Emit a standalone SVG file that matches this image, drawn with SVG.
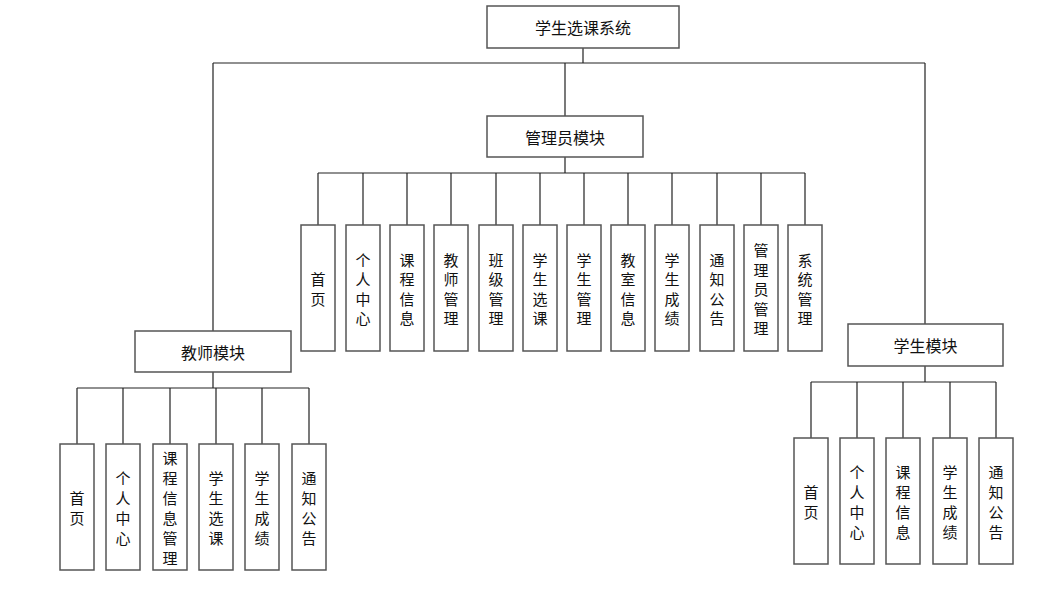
<svg xmlns="http://www.w3.org/2000/svg" width="1037" height="593" viewBox="0 0 1037 593">
<style>
.box{fill:#fff;stroke:#555;stroke-width:1.5}
.ln{fill:none;stroke:#222;stroke-width:1.2}
.t{font-family:"Noto Sans CJK SC","Liberation Sans",sans-serif;fill:#111;text-anchor:middle;dominant-baseline:central}
.m{font-size:16px}
.c{font-size:15px}
</style>
<rect width="1037" height="593" fill="#fff"/>
<g id="connectors">
<path class="ln" d="M583 48V63M213 63H925M213 63V331M925 63V324M565 63V116"/>
<path class="ln" d="M565 157V173M318 173H805M318 173V225M363 173V225M407 173V225M451 173V225M496 173V225M540 173V225M584 173V225M628 173V225M672 173V225M717 173V225M761 173V225M805 173V225"/>
<path class="ln" d="M213 372V388M77 388H309M77 388V444M123 388V444M170 388V444M216 388V444M262 388V444M309 388V444"/>
<path class="ln" d="M925 366V382M811 382H996M811 382V438M857 382V438M903 382V438M950 382V438M996 382V438"/>
</g>
<g id="root"><rect class="box" x="487" y="6" width="192" height="42"/><text class="t m" x="583" y="27">学生选课系统</text></g>
<g id="admin"><rect class="box" x="487" y="116" width="156" height="41"/><text class="t m" x="565" y="136.5">管理员模块</text></g>
<g id="teacher"><rect class="box" x="135" y="331" width="156" height="41"/><text class="t m" x="213" y="351.5">教师模块</text></g>
<g id="student"><rect class="box" x="848" y="324" width="155" height="42"/><text class="t m" x="925.5" y="345">学生模块</text></g>

<g id="a1"><rect class="box" x="301" y="225" width="34" height="126"/><text class="t c"><tspan x="318" y="278.25">首</tspan><tspan x="318" y="297.75">页</tspan></text></g>
<g id="a2"><rect class="box" x="346" y="225" width="34" height="126"/><text class="t c"><tspan x="363" y="258.75">个</tspan><tspan x="363" y="278.25">人</tspan><tspan x="363" y="297.75">中</tspan><tspan x="363" y="317.25">心</tspan></text></g>
<g id="a3"><rect class="box" x="390" y="225" width="34" height="126"/><text class="t c"><tspan x="407" y="258.75">课</tspan><tspan x="407" y="278.25">程</tspan><tspan x="407" y="297.75">信</tspan><tspan x="407" y="317.25">息</tspan></text></g>
<g id="a4"><rect class="box" x="434" y="225" width="34" height="126"/><text class="t c"><tspan x="451" y="258.75">教</tspan><tspan x="451" y="278.25">师</tspan><tspan x="451" y="297.75">管</tspan><tspan x="451" y="317.25">理</tspan></text></g>
<g id="a5"><rect class="box" x="479" y="225" width="34" height="126"/><text class="t c"><tspan x="496" y="258.75">班</tspan><tspan x="496" y="278.25">级</tspan><tspan x="496" y="297.75">管</tspan><tspan x="496" y="317.25">理</tspan></text></g>
<g id="a6"><rect class="box" x="523" y="225" width="34" height="126"/><text class="t c"><tspan x="540" y="258.75">学</tspan><tspan x="540" y="278.25">生</tspan><tspan x="540" y="297.75">选</tspan><tspan x="540" y="317.25">课</tspan></text></g>
<g id="a7"><rect class="box" x="567" y="225" width="34" height="126"/><text class="t c"><tspan x="584" y="258.75">学</tspan><tspan x="584" y="278.25">生</tspan><tspan x="584" y="297.75">管</tspan><tspan x="584" y="317.25">理</tspan></text></g>
<g id="a8"><rect class="box" x="611" y="225" width="34" height="126"/><text class="t c"><tspan x="628" y="258.75">教</tspan><tspan x="628" y="278.25">室</tspan><tspan x="628" y="297.75">信</tspan><tspan x="628" y="317.25">息</tspan></text></g>
<g id="a9"><rect class="box" x="655" y="225" width="34" height="126"/><text class="t c"><tspan x="672" y="258.75">学</tspan><tspan x="672" y="278.25">生</tspan><tspan x="672" y="297.75">成</tspan><tspan x="672" y="317.25">绩</tspan></text></g>
<g id="a10"><rect class="box" x="700" y="225" width="34" height="126"/><text class="t c"><tspan x="717" y="258.75">通</tspan><tspan x="717" y="278.25">知</tspan><tspan x="717" y="297.75">公</tspan><tspan x="717" y="317.25">告</tspan></text></g>
<g id="a11"><rect class="box" x="744" y="225" width="34" height="126"/><text class="t c"><tspan x="761" y="249">管</tspan><tspan x="761" y="268.5">理</tspan><tspan x="761" y="288">员</tspan><tspan x="761" y="307.5">管</tspan><tspan x="761" y="327">理</tspan></text></g>
<g id="a12"><rect class="box" x="788" y="225" width="34" height="126"/><text class="t c"><tspan x="805" y="258.75">系</tspan><tspan x="805" y="278.25">统</tspan><tspan x="805" y="297.75">管</tspan><tspan x="805" y="317.25">理</tspan></text></g>

<g id="t1"><rect class="box" x="60" y="444" width="34" height="126"/><text class="t c"><tspan x="77" y="497">首</tspan><tspan x="77" y="517">页</tspan></text></g>
<g id="t2"><rect class="box" x="106" y="444" width="34" height="126"/><text class="t c"><tspan x="123" y="477">个</tspan><tspan x="123" y="497">人</tspan><tspan x="123" y="517">中</tspan><tspan x="123" y="537">心</tspan></text></g>
<g id="t3"><rect class="box" x="153" y="444" width="34" height="126"/><text class="t c"><tspan x="170" y="457">课</tspan><tspan x="170" y="477">程</tspan><tspan x="170" y="497">信</tspan><tspan x="170" y="517">息</tspan><tspan x="170" y="537">管</tspan><tspan x="170" y="557">理</tspan></text></g>
<g id="t4"><rect class="box" x="199" y="444" width="34" height="126"/><text class="t c"><tspan x="216" y="477">学</tspan><tspan x="216" y="497">生</tspan><tspan x="216" y="517">选</tspan><tspan x="216" y="537">课</tspan></text></g>
<g id="t5"><rect class="box" x="245" y="444" width="34" height="126"/><text class="t c"><tspan x="262" y="477">学</tspan><tspan x="262" y="497">生</tspan><tspan x="262" y="517">成</tspan><tspan x="262" y="537">绩</tspan></text></g>
<g id="t6"><rect class="box" x="292" y="444" width="34" height="126"/><text class="t c"><tspan x="309" y="477">通</tspan><tspan x="309" y="497">知</tspan><tspan x="309" y="517">公</tspan><tspan x="309" y="537">告</tspan></text></g>

<g id="s1"><rect class="box" x="794" y="438" width="34" height="126"/><text class="t c"><tspan x="811" y="491">首</tspan><tspan x="811" y="511">页</tspan></text></g>
<g id="s2"><rect class="box" x="840" y="438" width="34" height="126"/><text class="t c"><tspan x="857" y="471">个</tspan><tspan x="857" y="491">人</tspan><tspan x="857" y="511">中</tspan><tspan x="857" y="531">心</tspan></text></g>
<g id="s3"><rect class="box" x="886" y="438" width="34" height="126"/><text class="t c"><tspan x="903" y="471">课</tspan><tspan x="903" y="491">程</tspan><tspan x="903" y="511">信</tspan><tspan x="903" y="531">息</tspan></text></g>
<g id="s4"><rect class="box" x="933" y="438" width="34" height="126"/><text class="t c"><tspan x="950" y="471">学</tspan><tspan x="950" y="491">生</tspan><tspan x="950" y="511">成</tspan><tspan x="950" y="531">绩</tspan></text></g>
<g id="s5"><rect class="box" x="979" y="438" width="34" height="126"/><text class="t c"><tspan x="996" y="471">通</tspan><tspan x="996" y="491">知</tspan><tspan x="996" y="511">公</tspan><tspan x="996" y="531">告</tspan></text></g>
</svg>
